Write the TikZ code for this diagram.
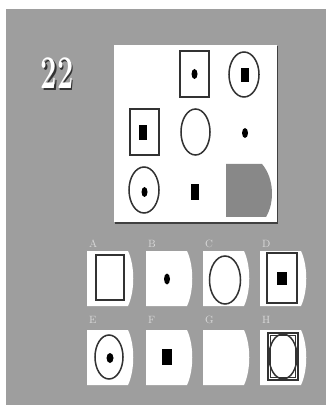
\documentclass[tikz,border=0pt]{standalone}
\usepackage{graphicx}
\definecolor{bggray}{RGB}{158,158,158}
\definecolor{shapegray}{RGB}{136,136,136}
\definecolor{ink}{RGB}{50,50,50}
\begin{document}
\begin{tikzpicture}[x=0.03cm, y=-0.03cm,
    outline/.style={draw=ink, line width=1.3pt},
    optlabel/.style={font=\fontsize{9}{9}\selectfont, text=white!70!gray, inner sep=0pt, anchor=south west}]
    \useasboundingbox (0,0) rectangle (326,405);
    \fill[white] (0,0) rectangle (326,405);
    \fill[bggray] (6,9) rectangle (326,405);

    % 题号
    \node[font=\bfseries\fontsize{40}{40}\selectfont, text=black!80] (numshadow) at (58.5,75) {\scalebox{0.62}[1]{22}};
    \node[font=\bfseries\fontsize{40}{40}\selectfont, text=white] (num) at (57,73.5) {\scalebox{0.62}[1]{22}};

    % 九宫格
    \fill[black!75] (115,46) rectangle (278,223.5);
    \fill[white] (114,45) rectangle (277,222);

    % 第一行
    \draw[outline] (180,51) rectangle (209,97);
    \fill (194.5,74) ellipse [x radius=3, y radius=5];
    \draw[outline] (244,74.5) ellipse [x radius=15, y radius=22.5];
    \fill (241,68) rectangle (249,82);

    % 第二行
    \draw[outline] (130,109) rectangle (159,155);
    \fill (139,125) rectangle (147,140);
    \draw[outline] (195.5,132) ellipse [x radius=14.5, y radius=23];
    \fill (245,133) ellipse [x radius=3, y radius=5];

    % 第三行
    \draw[outline] (144,190) ellipse [x radius=15, y radius=23];
    \fill (144.5,192) ellipse [x radius=3, y radius=5];
    \fill (191,184) rectangle (199,200);
    \fill[shapegray] (226,164) -- (262,164) .. controls (274,178) and (275,202) .. (266,217) -- (226,217) -- cycle;

    % 选项
    \foreach \nm/\lx/\ly/\ty in {A/87/251/248, B/146/251/248, C/203/251/248, D/260/251/248,
                                 E/87/330/324, F/146/330/324, G/203/330/324, H/260/330/324} {
        \fill[white] (\lx,\ly) -- ++(41,0) .. controls +(7,15) and +(7,-15) .. ++(0,55) -- ++(-41,0) -- cycle;
        \node[optlabel] (lab\nm) at (\lx+2,\ty) {\nm};
    }

    % A
    \draw[outline] (96,255) rectangle (124,300);
    % B
    \fill (167,279) ellipse [x radius=3, y radius=5.5];
    % C
    \draw[outline] (225,280) ellipse [x radius=15.5, y radius=24];
    % D
    \draw[outline] (267,253) rectangle (297,303);
    \fill (277,272) rectangle (287,285);
    % E
    \draw[outline] (109,357) ellipse [x radius=14, y radius=22];
    \fill (110,358) ellipse [x radius=3.5, y radius=5];
    % F
    \fill (162,349) rectangle (172,365);
    % H
    \draw[outline] (268,333) rectangle (298,380);
    \draw[ink, line width=0.5pt] (270.5,335.5) rectangle (295.5,377.5);
    \draw[outline] (283,356.5) ellipse [x radius=14, y radius=22.5];
\end{tikzpicture}
\end{document}
